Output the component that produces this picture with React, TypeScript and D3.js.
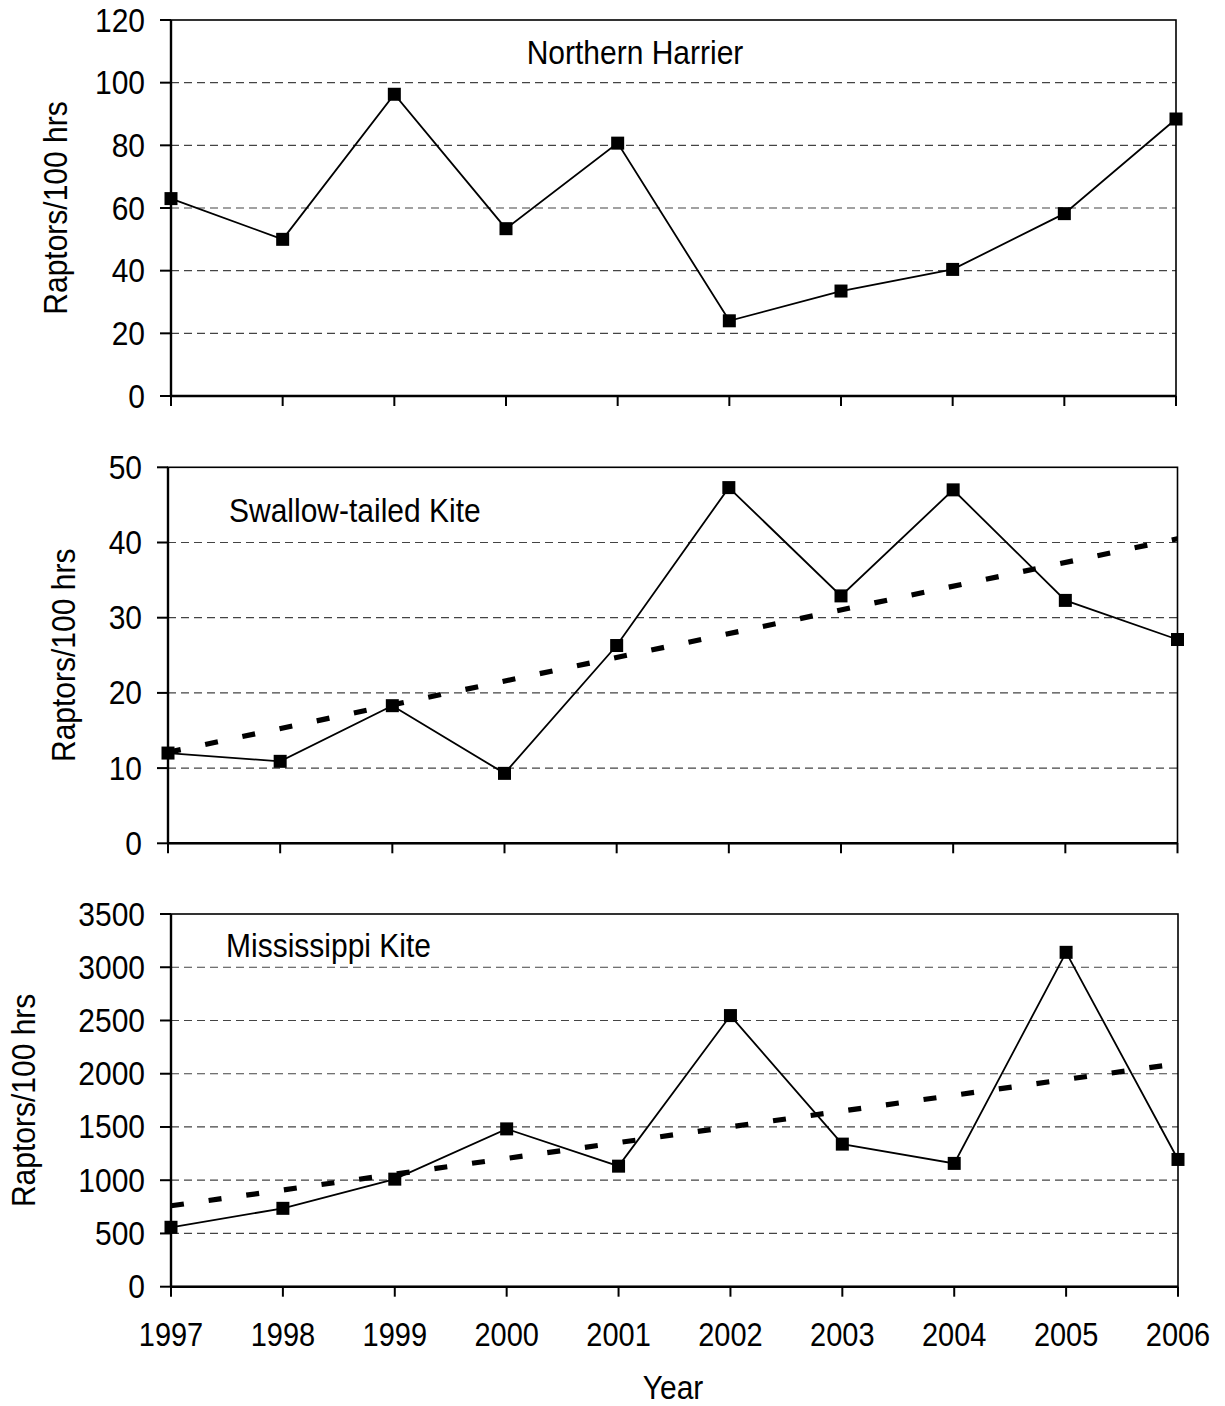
import React from 'react';
import * as d3 from 'd3';

const years = [1997, 1998, 1999, 2000, 2001, 2002, 2003, 2004, 2005, 2006];
const harrier = [63, 50, 96.3, 53.4, 80.7, 24, 33.5, 40.4, 58.2, 88.4];
const swallowKite = [12.0, 10.9, 18.3, 9.3, 26.3, 47.3, 32.9, 47.0, 32.3, 27.1];
const swallowTrend = [12.1, 40.5];
const missKite = [558, 736, 1010, 1482, 1132, 2546, 1339, 1158, 3140, 1195];
const missTrend = [760, 2095];
const trendYears = [1997, 2006];

const harrierTicks = [0, 20, 40, 60, 80, 100, 120];
const swallowTicks = [0, 10, 20, 30, 40, 50];
const missTicks = [0, 500, 1000, 1500, 2000, 2500, 3000, 3500];

const FONT = '"Liberation Sans", Arial, sans-serif';

// the source text is a bit taller than wide, so stretch it vertically
const Label: React.FC<{ x: number; y: number; anchor?: string; size?: number; rotate?: boolean; children: React.ReactNode }> = ({
  x, y, anchor = 'start', size = 30, rotate, children,
}) => (
  <text
    transform={rotate ? `translate(${x},${y}) rotate(-90) scale(1,1.12)` : `translate(${x},${y}) scale(1,1.12)`}
    textAnchor={anchor}
    fontSize={size}
    fontFamily={FONT}
  >
    {children}
  </text>
);

type PanelProps = {
  left: number;
  right: number;
  top: number;
  bottom: number;
  ticks: number[];
  values: number[];
  trend?: number[];
  title: string;
  titleX: number;
  titleY: number;
  titleAnchor: 'start' | 'middle';
  labelX: number;
  showYears?: boolean;
};

const Panel: React.FC<PanelProps> = ({
  left, right, top, bottom, ticks, values, trend, title, titleX, titleY, titleAnchor, labelX, showYears,
}) => {
  const x = d3.scaleLinear().domain([1997, 2006]).range([left, right]);
  const y = d3.scaleLinear().domain([ticks[0], ticks[ticks.length - 1]]).range([bottom, top]);
  const pts = years.map((yr, i) => [yr, values[i]] as [number, number]);
  const line = d3.line<[number, number]>().x(d => x(d[0])).y(d => y(d[1]));
  const trendPts = trend ? trendYears.map((yr, i) => [yr, trend[i]] as [number, number]) : [];
  const mid = (top + bottom) / 2;
  const grid = ticks.slice(1, -1);

  return (
    <g>
      {grid.map(t => (
        <line key={'g' + t} x1={left} x2={right} y1={y(t)} y2={y(t)}
          stroke="#444" strokeWidth={1.2} strokeDasharray="8 5" />
      ))}
      <rect x={left} y={top} width={right - left} height={bottom - top}
        fill="none" stroke="#000" strokeWidth={1.6} />
      <line x1={left} x2={left} y1={top} y2={bottom} stroke="#000" strokeWidth={2.4} />
      <line x1={left} x2={right} y1={bottom} y2={bottom} stroke="#000" strokeWidth={2.6} />
      {ticks.map(t => (
        <g key={'y' + t}>
          <line x1={left - 11} x2={left} y1={y(t)} y2={y(t)} stroke="#000" strokeWidth={2} />
          <Label x={left - 26} y={y(t) + 11.5} anchor="end">{t}</Label>
        </g>
      ))}
      {years.map(yr => (
        <g key={'x' + yr}>
          <line x1={x(yr)} x2={x(yr)} y1={bottom} y2={bottom + 10} stroke="#000" strokeWidth={2} />
          {showYears && (
            <Label x={x(yr)} y={bottom + 59} anchor="middle" size={29}>{yr}</Label>
          )}
        </g>
      ))}
      {trend && (
        <path d={line(trendPts) || ''} fill="none" stroke="#000" strokeWidth={5.2}
          strokeDasharray="13 25" />
      )}
      <path d={line(pts) || ''} fill="none" stroke="#000" strokeWidth={1.8} />
      {pts.map((p, i) => (
        <rect key={'m' + i} x={x(p[0]) - 6.5} y={y(p[1]) - 6.5} width={13} height={13} fill="#000" />
      ))}
      <Label x={titleX} y={titleY} anchor={titleAnchor}>{title}</Label>
      <Label x={labelX + 12} y={mid} anchor="middle" rotate>Raptors/100 hrs</Label>
    </g>
  );
};

export default function App() {
  return (
    <svg width={1225} height={1406} style={{ position: 'absolute', left: 0, top: 0, background: '#fff' }}>
      <rect width={1225} height={1406} fill="#fff" />
      <Panel left={171} right={1176} top={20} bottom={396} ticks={harrierTicks} values={harrier}
        title="Northern Harrier" titleX={635} titleY={64} titleAnchor="middle" labelX={55} />
      <Panel left={168} right={1177.5} top={467.3} bottom={843.3} ticks={swallowTicks} values={swallowKite}
        trend={swallowTrend} title="Swallow-tailed Kite" titleX={229} titleY={522} titleAnchor="start" labelX={63} />
      <Panel left={171} right={1178} top={914} bottom={1286.7} ticks={missTicks} values={missKite}
        trend={missTrend} title="Mississippi Kite" titleX={226} titleY={957} titleAnchor="start" labelX={23} showYears />
      <Label x={673} y={1399} anchor="middle">Year</Label>
    </svg>
  );
}
